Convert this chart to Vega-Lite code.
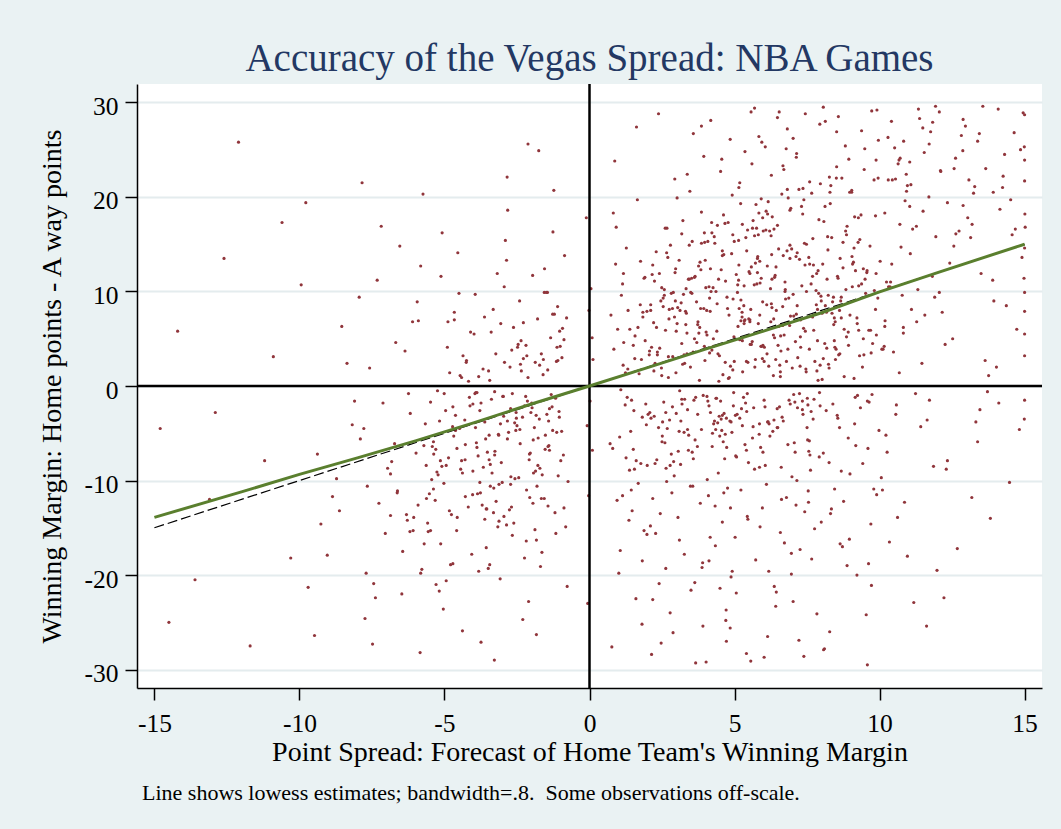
{
"$schema": "https://vega.github.io/schema/vega-lite/v6.json",
"background": "#EAF2F3",
"autosize": {"type": "pad"},
"padding": {"left": 38, "top": 39, "right": 19, "bottom": 29},
"config": {"view": {"stroke": null, "fill": "white"}, "font": "Liberation Serif"},
"title": {"text": "Line shows lowess estimates; bandwidth=.8.\u00a0 Some observations off-scale.", "orient": "bottom", "anchor": "start", "frame": "bounds", "baseline": "top", "fontSize": 22, "font": "Liberation Serif", "fontWeight": "normal", "color": "#000000", "offset": 16, "dx": 104},
"vconcat": [{
"width": 905,
"height": 604,
"title": {"text": "Accuracy of the Vegas Spread: NBA Games", "anchor": "middle", "frame": "group", "baseline": "alphabetic", "fontSize": 39, "font": "Liberation Serif", "fontWeight": "normal", "color": "#233863", "offset": -27},
"layer": [
{
"data": {"values": [
{"x":-14.8,"y":-4.5},{"x":-14.2,"y":5.8},{"x":-13.6,"y":-20.5},{"x":-13.1,"y":-12.0},{"x":-12.6,"y":13.5},{"x":-12.1,"y":25.8},{"x":-11.7,"y":-27.5},{"x":-11.2,"y":-7.9},{"x":-10.6,"y":17.3},{"x":-10.3,"y":-18.2},{"x":-14.5,"y":-25.0},{"x":-12.9,"y":-2.8},{"x":-10.9,"y":3.1},
{"x":-9.26,"y":-14.6},{"x":-8.36,"y":2.4},{"x":-9.70,"y":-21.3},{"x":-8.72,"y":-9.8},{"x":-9.94,"y":10.7},{"x":-8.18,"y":-4.1},{"x":-9.04,"y":-17.9},{"x":-9.48,"y":-26.4},{"x":-8.54,"y":6.3},{"x":-8.86,"y":-11.7},{"x":-9.78,"y":19.4},{"x":-8.10,"y":-1.6},{"x":-9.38,"y":-7.2},{"x":-8.62,"y":-13.2},
{"x":-7.26,"y":-12.4},{"x":-6.36,"y":3.7},{"x":-7.70,"y":-19.8},{"x":-6.72,"y":-6.1},{"x":-7.94,"y":9.4},{"x":-6.18,"y":-2.9},{"x":-7.04,"y":-15.6},{"x":-7.48,"y":-27.3},{"x":-6.54,"y":14.8},{"x":-6.86,"y":-9.3},{"x":-7.78,"y":-4.5},{"x":-6.10,"y":6.8},{"x":-7.38,"y":-22.4},{"x":-6.62,"y":-11.1},{"x":-7.84,"y":21.5},{"x":-7.12,"y":-1.8},{"x":-6.28,"y":-14.2},{"x":-7.58,"y":1.9},{"x":-6.82,"y":-8.0},{"x":-6.44,"y":-17.5},{"x":-7.74,"y":-24.6},{"x":-6.96,"y":-8.7},{"x":-7.32,"y":11.2},{"x":-6.06,"y":-13.9},{"x":-7.90,"y":-5.6},{"x":-6.68,"y":4.6},{"x":-7.44,"y":-20.9},{"x":-6.24,"y":-0.8},{"x":-7.18,"y":16.9},{"x":-7.66,"y":-10.6},
{"x":-5.26,"y":-9.1},{"x":-4.36,"y":3.2},{"x":-5.70,"y":-16.7},{"x":-4.72,"y":-4.3},{"x":-5.94,"y":8.9},{"x":-4.18,"y":-12.8},{"x":-5.04,"y":-23.6},{"x":-5.48,"y":-1.7},{"x":-4.54,"y":14.1},{"x":-4.86,"y":-7.6},{"x":-5.78,"y":-19.4},{"x":-4.10,"y":5.7},{"x":-5.38,"y":-10.9},{"x":-4.62,"y":-3.1},{"x":-5.84,"y":-28.2},{"x":-5.12,"y":11.6},{"x":-4.28,"y":-6.2},{"x":-5.58,"y":-14.5},{"x":-4.82,"y":1.4},{"x":-4.44,"y":-8.8},{"x":-5.74,"y":20.3},{"x":-4.96,"y":-2.6},{"x":-5.32,"y":-12.1},{"x":-4.06,"y":-17.8},{"x":-5.90,"y":6.9},{"x":-4.68,"y":-5.3},{"x":-5.44,"y":-9.9},{"x":-4.24,"y":2.7},{"x":-5.18,"y":-21.7},{"x":-5.66,"y":-4.0},{"x":-4.50,"y":9.8},{"x":-4.76,"y":-13.6},{"x":-5.98,"y":-7.1},{"x":-4.14,"y":-1.2},{"x":-5.08,"y":16.2},{"x":-5.52,"y":-11.4},{"x":-4.38,"y":-25.9},{"x":-4.90,"y":4.1},{"x":-5.30,"y":-6.7},{"x":-4.58,"y":-15.3},{"x":-5.62,"y":-11.9},{"x":-4.66,"y":7.8},{"x":-5.14,"y":-7.9},{"x":-5.82,"y":12.7},{"x":-4.30,"y":-3.6},{"x":-5.42,"y":-6.4},{"x":-4.94,"y":-20.6},{"x":-4.02,"y":-1.9},{"x":-5.22,"y":-9.4},{"x":-4.46,"y":1.1},
{"x":-3.26,"y":-6.9},{"x":-2.36,"y":4.8},{"x":-3.70,"y":-12.6},{"x":-2.72,"y":-2.4},{"x":-3.94,"y":9.7},{"x":-2.18,"y":-16.4},{"x":-3.04,"y":-8.1},{"x":-3.48,"y":1.6},{"x":-2.54,"y":-4.7},{"x":-2.86,"y":13.3},{"x":-3.78,"y":-10.2},{"x":-2.10,"y":-22.8},{"x":-3.38,"y":-1.4},{"x":-2.62,"y":6.2},{"x":-3.84,"y":-7.4},{"x":-3.12,"y":-14.3},{"x":-2.28,"y":2.9},{"x":-3.58,"y":-5.6},{"x":-2.82,"y":18.6},{"x":-2.44,"y":-9.7},{"x":-3.74,"y":-27.1},{"x":-2.96,"y":-3.2},{"x":-3.32,"y":8.1},{"x":-2.06,"y":-11.8},{"x":-3.90,"y":-6.0},{"x":-2.68,"y":3.8},{"x":-3.44,"y":-18.9},{"x":-2.24,"y":-2.1},{"x":-3.18,"y":11.9},{"x":-3.66,"y":-8.6},{"x":-2.50,"y":-4.2},{"x":-2.76,"y":-13.1},{"x":-3.98,"y":5.5},{"x":-2.14,"y":-1.6},{"x":-3.08,"y":-20.4},{"x":-3.52,"y":-7.0},{"x":-2.38,"y":2.3},{"x":-2.90,"y":15.4},{"x":-3.30,"y":-10.8},{"x":-2.58,"y":-3.9},{"x":-3.62,"y":7.3},{"x":-2.66,"y":-15.8},{"x":-3.14,"y":-5.1},{"x":-3.82,"y":1.0},{"x":-2.30,"y":-24.7},{"x":-3.42,"y":-8.3},{"x":-2.94,"y":10.5},{"x":-2.02,"y":-2.8},{"x":-3.22,"y":-12.2},{"x":-2.46,"y":4.4},{"x":-3.88,"y":-6.5},{"x":-2.84,"y":22.1},{"x":-3.36,"y":-9.2},{"x":-2.20,"y":-1.1},{"x":-3.56,"y":-17.1},{"x":-3.06,"y":6.6},{"x":-2.40,"y":-4.6},{"x":-3.76,"y":-11.3},{"x":-2.74,"y":2.0},{"x":-3.28,"y":-29.0},{"x":-2.12,"y":25.6},{"x":-3.46,"y":-7.8},
{"x":-1.52,"y":-5.2},{"x":-0.93,"y":6.1},{"x":-1.81,"y":-10.6},{"x":-1.17,"y":-1.3},{"x":-1.96,"y":11.7},{"x":-0.82,"y":-14.9},{"x":-1.38,"y":-6.8},{"x":-1.66,"y":3.4},{"x":-1.05,"y":-2.7},{"x":-1.26,"y":16.3},{"x":-1.86,"y":-9.0},{"x":-0.77,"y":-21.2},{"x":-1.60,"y":1.2},{"x":-1.10,"y":8.4},{"x":-1.90,"y":-4.4},{"x":-1.43,"y":-12.7},{"x":-0.88,"y":4.9},{"x":-1.73,"y":-3.5},{"x":-1.23,"y":20.7},{"x":-0.99,"y":-7.9},{"x":-1.83,"y":-26.3},{"x":-1.32,"y":-0.9},{"x":-1.56,"y":9.9},{"x":-0.74,"y":-10.1},{"x":-1.94,"y":-5.7},{"x":-1.14,"y":2.6},{"x":-1.64,"y":-17.6},{"x":-0.86,"y":13.8},{"x":-1.47,"y":-3.0},{"x":-1.78,"y":-8.4},{"x":-1.03,"y":5.8},{"x":-1.19,"y":-13.4},{"x":-1.99,"y":-1.8},{"x":-0.79,"y":7.2},{"x":-1.40,"y":-6.3},{"x":-1.69,"y":-19.1},{"x":-0.95,"y":3.0},{"x":-1.29,"y":-2.2},{"x":-1.55,"y":12.4},{"x":-1.08,"y":-9.5},{"x":-1.75,"y":24.9},{"x":-1.13,"y":-4.9},{"x":-1.44,"y":1.7},{"x":-1.88,"y":-15.2},{"x":-0.90,"y":-7.3},
{"x":0.05,"y":10.3},{"x":-0.08,"y":-4.2},{"x":0.12,"y":2.8},{"x":-0.03,"y":-11.6},{"x":0.09,"y":5.1},{"x":-0.11,"y":17.8},{"x":0.02,"y":-1.6},{"x":-0.06,"y":-23.0},{"x":0.1,"y":-6.8},{"x":-0.02,"y":8.0},
{"x":1.18,"y":4.6},{"x":1.77,"y":-8.2},{"x":0.90,"y":12.9},{"x":1.53,"y":-2.6},{"x":0.74,"y":7.5},{"x":1.88,"y":-15.3},{"x":1.32,"y":1.8},{"x":1.04,"y":-5.4},{"x":1.65,"y":19.7},{"x":1.44,"y":-11.0},{"x":0.84,"y":3.9},{"x":1.94,"y":-1.9},{"x":1.10,"y":9.6},{"x":1.60,"y":-22.5},{"x":0.80,"y":-6.6},{"x":1.27,"y":14.6},{"x":1.82,"y":-3.3},{"x":0.97,"y":6.0},{"x":1.47,"y":-13.2},{"x":1.71,"y":1.3},{"x":0.87,"y":23.8},{"x":1.38,"y":-8.9},{"x":1.14,"y":10.8},{"x":1.96,"y":-4.1},{"x":0.77,"y":-27.6},{"x":1.56,"y":2.9},{"x":1.06,"y":-17.4},{"x":1.84,"y":7.8},{"x":1.23,"y":-2.0},{"x":0.92,"y":16.8},{"x":1.68,"y":-10.3},{"x":1.51,"y":4.3},{"x":0.71,"y":-6.1},{"x":1.91,"y":11.5},{"x":1.30,"y":-1.2},{"x":1.01,"y":-19.8},{"x":1.75,"y":8.6},{"x":1.42,"y":-4.8},{"x":1.16,"y":2.2},{"x":1.62,"y":27.4},{"x":0.95,"y":-12.1},{"x":1.57,"y":5.3},{"x":1.26,"y":-7.6},{"x":0.82,"y":18.3},{"x":1.81,"y":-25.2},
{"x":2.74,"y":7.1},{"x":3.64,"y":-5.7},{"x":2.30,"y":14.2},{"x":3.28,"y":-1.4},{"x":2.06,"y":3.3},{"x":3.82,"y":-12.4},{"x":2.96,"y":9.0},{"x":2.52,"y":-3.8},{"x":3.46,"y":20.6},{"x":3.14,"y":-8.3},{"x":2.22,"y":1.6},{"x":3.90,"y":-18.7},{"x":2.62,"y":5.9},{"x":3.38,"y":-2.5},{"x":2.16,"y":11.8},{"x":2.88,"y":-26.1},{"x":3.72,"y":-6.4},{"x":2.42,"y":4.0},{"x":3.18,"y":16.1},{"x":3.56,"y":-10.6},{"x":2.26,"y":2.4},{"x":3.04,"y":8.3},{"x":2.68,"y":-4.5},{"x":3.94,"y":24.3},{"x":2.10,"y":-14.8},{"x":3.32,"y":6.5},{"x":2.56,"y":-1.7},{"x":3.76,"y":12.7},{"x":2.82,"y":-7.2},{"x":2.34,"y":3.6},{"x":3.50,"y":-21.6},{"x":3.24,"y":9.7},{"x":2.02,"y":-3.0},{"x":3.86,"y":18.4},{"x":2.92,"y":-9.5},{"x":2.48,"y":1.9},{"x":3.62,"y":5.0},{"x":3.10,"y":-16.3},{"x":2.70,"y":13.6},{"x":3.42,"y":-5.2},{"x":2.38,"y":28.8},{"x":3.34,"y":7.7},{"x":2.86,"y":-2.2},{"x":2.18,"y":-11.9},{"x":3.70,"y":4.6},{"x":2.58,"y":10.2},{"x":3.06,"y":-6.9},{"x":3.98,"y":2.7},{"x":2.78,"y":-24.0},{"x":3.54,"y":15.3},{"x":2.12,"y":-3.4},{"x":3.16,"y":8.8},{"x":2.64,"y":-8.7},{"x":3.80,"y":6.2},{"x":2.44,"y":-13.5},{"x":2.94,"y":21.9},{"x":3.60,"y":-1.5},{"x":2.24,"y":11.1},{"x":3.26,"y":-4.9},{"x":2.72,"y":3.1},{"x":3.88,"y":-19.2},{"x":2.54,"y":9.3},{"x":2.32,"y":-7.8},{"x":3.44,"y":14.9},{"x":2.98,"y":1.4},{"x":2.08,"y":-2.8},{"x":3.74,"y":6.8},{"x":2.66,"y":-10.1},{"x":3.22,"y":17.5},{"x":3.96,"y":4.2},{"x":2.50,"y":-5.9},{"x":3.58,"y":26.7},{"x":2.28,"y":-15.6},{"x":3.12,"y":8.0},{"x":2.76,"y":-3.6},{"x":3.84,"y":12.3},{"x":2.14,"y":-28.4},{"x":3.36,"y":5.6},{"x":2.90,"y":-8.0},{"x":3.66,"y":-29.3},{"x":2.40,"y":-20.9},{"x":3.02,"y":19.9},{"x":3.92,"y":-1.0},{"x":2.60,"y":-6.0},{"x":3.48,"y":2.0},
{"x":4.74,"y":9.4},{"x":5.64,"y":-4.3},{"x":4.30,"y":15.8},{"x":5.28,"y":1.5},{"x":4.06,"y":-9.9},{"x":5.82,"y":6.6},{"x":4.96,"y":-2.1},{"x":4.52,"y":22.7},{"x":5.46,"y":-14.1},{"x":5.14,"y":11.2},{"x":4.22,"y":3.8},{"x":5.90,"y":-6.5},{"x":4.62,"y":18.1},{"x":5.38,"y":-1.8},{"x":4.16,"y":7.9},{"x":4.88,"y":-20.2},{"x":5.72,"y":13.0},{"x":4.42,"y":-3.9},{"x":5.18,"y":4.9},{"x":5.56,"y":-29.1},{"x":4.26,"y":10.4},{"x":5.04,"y":-7.4},{"x":4.68,"y":2.5},{"x":5.94,"y":25.8},{"x":4.10,"y":-11.6},{"x":5.32,"y":8.5},{"x":4.56,"y":-4.7},{"x":5.76,"y":16.7},{"x":4.82,"y":0.9},{"x":4.34,"y":-16.9},{"x":5.50,"y":12.1},{"x":5.24,"y":-2.4},{"x":4.02,"y":5.7},{"x":5.86,"y":-8.6},{"x":4.92,"y":20.2},{"x":4.48,"y":3.2},{"x":5.62,"y":-5.5},{"x":5.10,"y":9.9},{"x":4.70,"y":-24.8},{"x":5.42,"y":14.3},{"x":4.38,"y":-1.3},{"x":5.34,"y":6.9},{"x":4.86,"y":-12.9},{"x":4.18,"y":28.1},{"x":5.70,"y":2.0},{"x":4.58,"y":-3.1},{"x":5.06,"y":11.8},{"x":5.98,"y":-7.0},{"x":4.78,"y":17.3},{"x":5.54,"y":4.4},{"x":4.12,"y":-18.5},{"x":5.16,"y":8.2},{"x":4.64,"y":-2.9},{"x":5.80,"y":13.7},{"x":4.44,"y":-9.2},{"x":4.94,"y":1.7},{"x":5.60,"y":23.5},{"x":4.24,"y":-5.0},{"x":5.26,"y":7.3},{"x":4.72,"y":-27.0},{"x":5.88,"y":10.9},{"x":4.54,"y":-3.5},{"x":4.32,"y":15.1},{"x":5.44,"y":-13.8},{"x":4.98,"y":5.2},{"x":4.08,"y":-1.6},{"x":5.74,"y":19.2},{"x":4.66,"y":-7.7},{"x":5.22,"y":9.1},{"x":5.96,"y":2.9},{"x":4.50,"y":-21.4},{"x":5.58,"y":12.6},{"x":4.28,"y":-4.0},{"x":5.12,"y":6.3},{"x":4.76,"y":-10.8},{"x":5.84,"y":26.4},{"x":4.14,"y":3.5},{"x":5.36,"y":-6.2},{"x":4.90,"y":14.0},{"x":5.66,"y":-2.3},{"x":4.40,"y":8.7},{"x":5.02,"y":-16.0},{"x":5.92,"y":11.4},{"x":4.60,"y":1.2},{"x":5.48,"y":-8.1},{"x":5.15,"y":21.0},{"x":4.35,"y":-4.6},{"x":5.53,"y":7.0},{"x":4.85,"y":-25.6},{"x":5.99,"y":16.4},{"x":4.05,"y":-1.1},{"x":5.27,"y":4.8},{"x":4.63,"y":-11.3},{"x":5.69,"y":29.4},{"x":4.19,"y":10.0},{"x":5.41,"y":-6.8},{"x":4.99,"y":2.6},{"x":5.87,"y":13.2},{"x":4.47,"y":-3.2},
{"x":6.74,"y":11.0},{"x":7.64,"y":-2.7},{"x":6.30,"y":17.9},{"x":7.28,"y":4.1},{"x":6.06,"y":-8.4},{"x":7.82,"y":8.6},{"x":6.96,"y":-17.7},{"x":6.52,"y":14.5},{"x":7.46,"y":1.8},{"x":7.14,"y":24.6},{"x":6.22,"y":-5.3},{"x":7.90,"y":9.8},{"x":6.62,"y":-12.0},{"x":7.38,"y":6.1},{"x":6.16,"y":19.5},{"x":6.88,"y":-1.5},{"x":7.72,"y":12.8},{"x":6.42,"y":-23.3},{"x":7.18,"y":3.0},{"x":7.56,"y":-6.9},{"x":6.26,"y":15.9},{"x":7.04,"y":7.4},{"x":6.68,"y":-3.7},{"x":7.94,"y":27.7},{"x":6.10,"y":-10.4},{"x":7.32,"y":10.6},{"x":6.56,"y":2.2},{"x":7.76,"y":-15.1},{"x":6.82,"y":20.8},{"x":6.34,"y":5.4},{"x":7.50,"y":-4.4},{"x":7.24,"y":13.4},{"x":6.02,"y":-28.7},{"x":7.86,"y":8.1},{"x":6.92,"y":-1.9},{"x":6.48,"y":17.0},{"x":7.62,"y":-8.9},{"x":7.10,"y":4.7},{"x":6.70,"y":22.9},{"x":7.42,"y":-13.3},{"x":6.38,"y":11.5},{"x":7.34,"y":-2.5},{"x":6.86,"y":6.7},{"x":6.18,"y":-19.6},{"x":7.70,"y":15.6},{"x":6.58,"y":1.0},{"x":7.06,"y":-6.0},{"x":7.98,"y":9.5},{"x":6.78,"y":25.1},{"x":7.54,"y":-11.1},{"x":6.12,"y":3.4},{"x":7.16,"y":14.1},{"x":6.64,"y":-3.3},{"x":7.80,"y":7.6},{"x":6.44,"y":-21.8},{"x":6.94,"y":18.8},{"x":7.60,"y":-7.3},{"x":6.24,"y":10.3},{"x":7.26,"y":2.1},{"x":6.72,"y":-16.6},{"x":7.88,"y":12.2},{"x":6.54,"y":29.0},{"x":6.32,"y":-4.8},{"x":7.44,"y":5.8},{"x":6.98,"y":-9.6},{"x":6.08,"y":16.5},{"x":7.74,"y":-1.4},{"x":6.66,"y":8.4},{"x":7.22,"y":-26.9},{"x":7.96,"y":21.4},{"x":6.50,"y":4.3},{"x":7.58,"y":-5.8},{"x":6.28,"y":13.9},{"x":7.12,"y":-12.6},{"x":6.76,"y":9.2},{"x":7.84,"y":1.6},{"x":6.14,"y":18.2},{"x":7.36,"y":-3.0},{"x":6.90,"y":6.4},{"x":7.66,"y":-18.3},{"x":6.40,"y":11.7},{"x":7.02,"y":26.2},{"x":7.92,"y":-7.5},{"x":6.60,"y":3.7},{"x":7.48,"y":15.0},{"x":7.15,"y":-10.0},{"x":6.35,"y":7.1},{"x":7.53,"y":-2.0},{"x":6.85,"y":19.9},{"x":7.99,"y":-14.4},
{"x":8.74,"y":12.5},{"x":9.64,"y":-1.7},{"x":8.30,"y":19.3},{"x":9.28,"y":5.9},{"x":8.06,"y":-7.1},{"x":9.82,"y":10.1},{"x":8.96,"y":-16.2},{"x":8.52,"y":23.2},{"x":9.46,"y":3.3},{"x":9.14,"y":-4.0},{"x":8.22,"y":14.4},{"x":9.90,"y":-11.5},{"x":8.62,"y":8.0},{"x":9.38,"y":27.0},{"x":8.16,"y":-2.6},{"x":8.88,"y":16.9},{"x":9.72,"y":-21.1},{"x":8.42,"y":6.5},{"x":9.18,"y":-6.3},{"x":9.56,"y":12.0},{"x":8.26,"y":1.9},{"x":9.04,"y":20.5},{"x":8.68,"y":-9.0},{"x":9.94,"y":9.3},{"x":8.10,"y":-27.8},{"x":9.32,"y":15.5},{"x":8.56,"y":-3.4},{"x":9.76,"y":4.5},{"x":8.82,"y":25.4},{"x":8.34,"y":-13.0},{"x":9.50,"y":11.3},{"x":9.24,"y":-1.0},{"x":8.02,"y":7.7},{"x":9.86,"y":18.0},{"x":8.92,"y":-5.5},{"x":8.48,"y":2.8},{"x":9.62,"y":-18.8},{"x":9.10,"y":13.1},{"x":8.70,"y":22.0},{"x":9.42,"y":-8.2},{"x":8.38,"y":8.9},{"x":9.34,"y":-2.3},{"x":8.86,"y":16.0},{"x":8.18,"y":4.0},{"x":9.70,"y":-14.6},{"x":8.58,"y":28.5},{"x":9.06,"y":10.5},{"x":9.98,"y":-4.7},{"x":8.78,"y":6.0},{"x":9.54,"y":-24.2},{"x":8.12,"y":19.0},{"x":9.16,"y":-1.2},{"x":8.64,"y":13.5},{"x":9.80,"y":-10.9},{"x":8.44,"y":7.2},{"x":8.94,"y":24.0},{"x":9.60,"y":-6.6},{"x":8.24,"y":2.3},{"x":9.26,"y":15.2},{"x":8.72,"y":-17.0},{"x":9.88,"y":11.9},{"x":8.54,"y":-3.1},{"x":8.32,"y":21.2},{"x":9.44,"y":5.0},{"x":8.98,"y":-9.3},{"x":8.08,"y":17.4},{"x":9.74,"y":-0.9},{"x":8.66,"y":9.0},{"x":9.22,"y":-20.0},{"x":9.96,"y":26.0},{"x":8.50,"y":3.9},{"x":9.58,"y":-29.5},{"x":8.28,"y":-26.0},{"x":9.12,"y":0.8},{"x":8.76,"y":-12.2},
{"x":10.74,"y":14.7},{"x":11.64,"y":-3.6},{"x":10.30,"y":21.8},{"x":11.28,"y":6.8},{"x":10.06,"y":-9.7},{"x":11.82,"y":11.6},{"x":10.96,"y":-18.0},{"x":10.52,"y":25.2},{"x":11.46,"y":2.4},{"x":11.14,"y":16.6},{"x":10.22,"y":-5.2},{"x":11.90,"y":9.4},{"x":10.62,"y":-13.9},{"x":11.38,"y":28.3},{"x":10.16,"y":4.2},{"x":10.88,"y":19.6},{"x":11.72,"y":-1.5},{"x":10.42,"y":12.9},{"x":11.18,"y":-22.9},{"x":11.56,"y":7.5},{"x":10.26,"y":-7.0},{"x":11.04,"y":23.7},{"x":10.68,"y":1.4},{"x":11.94,"y":15.8},{"x":10.10,"y":-11.0},{"x":11.32,"y":10.2},{"x":10.56,"y":-3.0},{"x":11.76,"y":26.9},{"x":10.82,"y":5.6},{"x":10.34,"y":-16.5},{"x":11.50,"y":18.5},{"x":11.24,"y":-0.8},{"x":10.02,"y":13.2},{"x":11.86,"y":-8.5},{"x":10.92,"y":22.4},{"x":10.48,"y":3.6},{"x":11.62,"y":-25.4},{"x":11.10,"y":8.1},{"x":10.70,"y":17.1},{"x":11.42,"y":-4.3},{"x":10.38,"y":11.0},{"x":11.34,"y":29.3},{"x":10.86,"y":-12.3},{"x":10.18,"y":6.3},{"x":11.70,"y":20.0},{"x":10.58,"y":-2.0},{"x":11.06,"y":14.0},{"x":11.98,"y":-19.5},{"x":10.78,"y":9.6},{"x":11.54,"y":24.7},
{"x":12.74,"y":16.4},{"x":13.64,"y":2.7},{"x":12.30,"y":-8.8},{"x":13.28,"y":21.1},{"x":12.06,"y":9.9},{"x":13.82,"y":-14.0},{"x":12.96,"y":27.5},{"x":12.52,"y":5.0},{"x":13.46,"y":-2.5},{"x":13.14,"y":15.7},{"x":12.22,"y":-22.4},{"x":13.90,"y":11.2},{"x":12.62,"y":24.1},{"x":13.38,"y":-5.9},{"x":12.16,"y":7.8},{"x":12.88,"y":19.1},{"x":13.72,"y":-0.6},{"x":12.42,"y":13.0},{"x":13.18,"y":-11.8},{"x":13.56,"y":29.6},{"x":12.26,"y":4.4},{"x":13.04,"y":17.8},{"x":12.68,"y":-17.2},{"x":13.94,"y":9.0},{"x":12.10,"y":22.8},{"x":13.32,"y":-3.8},{"x":12.56,"y":14.8},{"x":13.76,"y":1.1},{"x":12.82,"y":26.5},{"x":12.34,"y":-7.9},{"x":13.50,"y":11.9},{"x":13.24,"y":20.4},
{"x":14.37,"y":8.5},{"x":14.82,"y":-4.6},{"x":14.15,"y":18.7},{"x":14.64,"y":26.8},{"x":14.03,"y":2.0},{"x":14.91,"y":13.6},{"x":14.48,"y":-10.2},{"x":14.26,"y":22.2},{"x":14.73,"y":6.0},{"x":14.57,"y":16.0},{"x":14.11,"y":-1.8},{"x":14.95,"y":28.9},
{"x":15.0,"y":-1.5},{"x":15.0,"y":3.2},{"x":15.0,"y":7.9},{"x":14.98,"y":11.4},{"x":15.0,"y":14.6},{"x":15.01,"y":18.2},{"x":15.0,"y":21.7},{"x":14.99,"y":25.3},{"x":15.0,"y":28.7},{"x":15.0,"y":5.5},{"x":15.0,"y":9.9},{"x":15.02,"y":16.8},{"x":15.0,"y":23.9},{"x":14.99,"y":-3.5},
{"x":2.31,"y":6.2},{"x":3.53,"y":9.8},{"x":4.17,"y":12.4},{"x":5.61,"y":4.7},{"x":6.29,"y":8.3},{"x":7.83,"y":11.9},{"x":8.47,"y":6.8},{"x":9.12,"y":14.6},{"x":2.87,"y":3.1},{"x":3.09,"y":13.3},{"x":4.81,"y":7.5},{"x":5.33,"y":10.6},{"x":6.91,"y":14.9},{"x":7.27,"y":5.2},{"x":8.68,"y":9.4},{"x":9.57,"y":12.2},{"x":2.49,"y":10.4},{"x":3.77,"y":5.6},{"x":4.43,"y":3.4},{"x":5.97,"y":8.9},{"x":6.13,"y":12.7},{"x":7.58,"y":3.9},{"x":8.21,"y":15.8},{"x":9.86,"y":8.1},{"x":2.66,"y":14.1},{"x":3.31,"y":7.9},{"x":4.69,"y":11.1},{"x":5.14,"y":15.4},{"x":6.57,"y":6.4},{"x":7.02,"y":9.7},{"x":8.93,"y":4.3},{"x":9.38,"y":10.8},{"x":3.96,"y":16.2},{"x":4.27,"y":5.0},{"x":5.79,"y":13.5},{"x":6.42,"y":2.8},{"x":7.69,"y":7.3},{"x":8.04,"y":12.9},{"x":2.11,"y":8.6},{"x":3.64,"y":11.6},{"x":4.95,"y":9.2},{"x":5.46,"y":2.5},{"x":6.75,"y":10.2},{"x":7.41,"y":15.1},{"x":8.36,"y":7.7},{"x":9.69,"y":5.9},{"x":2.95,"y":12.0},{"x":4.58,"y":14.3},{"x":5.22,"y":6.9},{"x":6.03,"y":4.1},{"x":6.68,"y":13.8},{"x":7.16,"y":8.5},{"x":7.95,"y":2.2},{"x":8.57,"y":11.4},{"x":9.23,"y":6.6},{"x":3.18,"y":4.5},{"x":4.04,"y":8.0},{"x":5.53,"y":11.9},{"x":6.36,"y":16.6},{"x":7.48,"y":10.0},
{"x":2.23,"y":-3.2},{"x":3.41,"y":-6.8},{"x":4.12,"y":-2.1},{"x":5.07,"y":-7.5},{"x":6.19,"y":-4.0},{"x":7.34,"y":-1.6},{"x":2.78,"y":-8.4},{"x":3.86,"y":-4.6},{"x":4.61,"y":-5.9},{"x":5.42,"y":-2.7},{"x":6.84,"y":-6.2},{"x":7.71,"y":-3.5},{"x":8.26,"y":-8.1},{"x":2.51,"y":-5.3},{"x":3.19,"y":-1.9},{"x":4.88,"y":-3.8},{"x":5.69,"y":-8.8},{"x":6.47,"y":-2.4},{"x":7.09,"y":-7.0},{"x":8.62,"y":-4.4},{"x":3.58,"y":-7.7},{"x":4.36,"y":-1.3},{"x":5.85,"y":-5.1},{"x":6.61,"y":-8.6},{"x":2.99,"y":-2.9},{"x":4.73,"y":-6.5},{"x":5.27,"y":-4.2},{"x":7.52,"y":-5.7},{"x":6.02,"y":-1.5},{"x":3.73,"y":-3.0},
{"x":-5.63,"y":-8.4},{"x":-4.28,"y":-11.7},{"x":-3.46,"y":-5.2},{"x":-2.71,"y":-9.6},{"x":-1.84,"y":-3.1},{"x":-5.17,"y":-3.7},{"x":-4.83,"y":-13.2},{"x":-3.12,"y":-10.4},{"x":-2.39,"y":-6.1},{"x":-1.56,"y":-11.9},{"x":-5.91,"y":-12.6},{"x":-4.57,"y":-6.6},{"x":-3.78,"y":-2.6},{"x":-2.95,"y":-13.8},{"x":-2.08,"y":-7.8},{"x":-1.27,"y":-4.7},{"x":-5.38,"y":-5.9},{"x":-4.02,"y":-9.0},{"x":-3.61,"y":-14.1},{"x":-2.52,"y":-3.4},{"x":-1.71,"y":-8.7},{"x":-4.71,"y":-2.2},{"x":-3.27,"y":-7.3},{"x":-2.17,"y":-11.0},{"x":-1.43,"y":-6.4},{"x":-5.02,"y":-10.3},{"x":-3.93,"y":-4.4},{"x":-2.83,"y":-5.6},{"x":-1.95,"y":-12.4},{"x":-4.41,"y":-7.9},
{"x":5.36,"y":24.8},{"x":6.82,"y":27.2},{"x":7.59,"y":21.6},{"x":8.13,"y":28.0},{"x":9.47,"y":22.9},{"x":10.29,"y":26.3},{"x":11.08,"y":21.3},{"x":11.83,"y":27.9},{"x":12.57,"y":23.0},{"x":13.38,"y":25.9},{"x":14.24,"y":21.0},{"x":9.91,"y":29.2},{"x":6.27,"y":22.3},{"x":12.06,"y":29.0},{"x":10.71,"y":24.1},
{"x":3.41,"y":11.3},{"x":7.88,"y":0.6},{"x":1.92,"y":4.8},{"x":5.27,"y":17.1},{"x":9.63,"y":5.9},{"x":2.75,"y":8.1},{"x":6.14,"y":-3.8},{"x":10.31,"y":10.5},{"x":4.58,"y":13.8},{"x":8.06,"y":2.9},{"x":1.33,"y":8.0},{"x":5.91,"y":4.2},{"x":7.22,"y":20.8},{"x":3.09,"y":-4.8},{"x":9.17,"y":12.2},{"x":6.66,"y":6.4},{"x":2.18,"y":12.8},{"x":4.97,"y":-0.7},{"x":8.74,"y":15.2},{"x":10.82,"y":6.2},{"x":5.49,"y":7.1},{"x":3.86,"y":15.1},{"x":7.51,"y":-1.3},{"x":1.67,"y":6.2},{"x":6.38,"y":5.1},{"x":9.95,"y":22.0},{"x":4.23,"y":-6.4},{"x":2.54,"y":8.4},{"x":8.41,"y":9.4},{"x":5.72,"y":2.8},
{"x":6.93,"y":7.4},{"x":2.41,"y":11.9},{"x":8.59,"y":3.3},{"x":4.12,"y":10.5},{"x":1.08,"y":-0.4},{"x":7.36,"y":20.9},{"x":5.03,"y":-3.1},{"x":9.44,"y":12.4},{"x":3.57,"y":3.6},{"x":6.21,"y":16.4},{"x":10.08,"y":3.9},{"x":2.89,"y":9.9},{"x":4.79,"y":0.8},{"x":8.23,"y":9.6},{"x":5.62,"y":16.7},{"x":1.51,"y":-6.7},{"x":7.69,"y":11.6},{"x":3.28,"y":2.4},{"x":9.81,"y":21.8},{"x":6.47,"y":-4.4},{"x":4.36,"y":10.0},{"x":2.07,"y":3.7},{"x":8.92,"y":5.7},{"x":5.15,"y":12.8},{"x":7.04,"y":-0.9},{"x":3.73,"y":6.5},{"x":10.55,"y":21.9},{"x":6.02,"y":2.6},{"x":1.84,"y":7.3},{"x":4.91,"y":-4.9},
{"x":8.17,"y":7.8},{"x":5.39,"y":15.7},{"x":2.63,"y":-2.8},{"x":7.12,"y":13.7},{"x":4.46,"y":0.5},{"x":9.28,"y":10.6},{"x":1.76,"y":13.2},{"x":6.55,"y":-2.2},{"x":3.94,"y":8.2},{"x":8.68,"y":7.2},{"x":5.84,"y":18.3},{"x":2.26,"y":-8.2},{"x":7.43,"y":12.8},{"x":4.05,"y":5.4},{"x":10.19,"y":6.9},{"x":6.81,"y":14.3},{"x":3.15,"y":-3.7},{"x":5.56,"y":8.1},{"x":8.97,"y":20.5},{"x":1.45,"y":-1.5},{"x":6.29,"y":11.3},{"x":4.68,"y":-5.1},{"x":9.52,"y":9.8},{"x":2.97,"y":12.4},{"x":7.77,"y":2.6},{"x":3.49,"y":9.9},{"x":5.98,"y":4.3},{"x":10.67,"y":23.9},{"x":4.31,"y":-3.7},{"x":6.74,"y":10.0},
{"x":4.84,"y":-3.7},{"x":9.07,"y":12.9},{"x":3.21,"y":2.3},{"x":6.09,"y":18.5},{"x":1.99,"y":-8.4},{"x":7.59,"y":12.9},{"x":5.33,"y":6.6},{"x":2.72,"y":0.9},{"x":8.35,"y":15.7},{"x":4.17,"y":-2.8},{"x":6.87,"y":9.3},{"x":10.44,"y":21.8},{"x":3.66,"y":-1.2},{"x":5.77,"y":10.8},{"x":7.95,"y":-2.1},{"x":2.34,"y":3.3},{"x":9.36,"y":18.1},{"x":4.52,"y":-1.6},{"x":6.43,"y":12.6},{"x":1.24,"y":1.4},{"x":8.51,"y":22.0},{"x":5.09,"y":-3.0},{"x":3.02,"y":6.6},{"x":7.28,"y":7.0},{"x":4.99,"y":15.3},{"x":9.71,"y":3.5},{"x":2.58,"y":9.6},{"x":6.18,"y":2.1},{"x":8.84,"y":10.2},{"x":5.45,"y":16.5},
{"x":7.31,"y":19.0},{"x":3.79,"y":0.6},{"x":5.68,"y":10.7},{"x":1.61,"y":-7.9},{"x":8.13,"y":8.5},{"x":4.63,"y":13.9},{"x":6.99,"y":1.9},{"x":2.46,"y":9.0},{"x":9.22,"y":7.2},{"x":5.21,"y":19.3},{"x":3.38,"y":-4.6},{"x":7.64,"y":10.8},{"x":4.27,"y":4.2},{"x":10.93,"y":20.6},{"x":6.34,"y":1.1},{"x":2.82,"y":9.8},{"x":8.46,"y":4.1},{"x":5.87,"y":7.5},{"x":3.97,"y":15.2},{"x":7.08,"y":-1.7},{"x":1.39,"y":6.0},{"x":6.59,"y":5.3},{"x":4.41,"y":17.0},{"x":9.58,"y":-1.6},{"x":2.11,"y":8.0},{"x":5.53,"y":6.8},{"x":7.86,"y":4.8},{"x":3.62,"y":11.5},{"x":8.02,"y":0.7},{"x":6.11,"y":8.6},
{"x":5.94,"y":4.2},{"x":2.67,"y":16.7},{"x":8.78,"y":1.0},{"x":4.76,"y":8.2},{"x":6.52,"y":6.3},{"x":1.17,"y":11.9},{"x":7.47,"y":1.5},{"x":3.33,"y":10.3},{"x":9.89,"y":5.4},{"x":5.36,"y":7.0},{"x":4.08,"y":15.3},{"x":7.17,"y":-2.3},{"x":2.93,"y":7.3},{"x":6.71,"y":5.4},{"x":8.29,"y":20.5},{"x":3.54,"y":-7.0},{"x":5.11,"y":10.7},{"x":10.24,"y":11.0},{"x":4.86,"y":2.1},{"x":6.97,"y":14.5},{"x":2.38,"y":-4.4},{"x":7.81,"y":10.1},{"x":5.64,"y":17.5},{"x":3.11,"y":-0.5},{"x":9.05,"y":13.7},{"x":4.49,"y":-5.3},{"x":6.25,"y":6.8},{"x":1.88,"y":11.4},{"x":8.63,"y":3.4},{"x":5.79,"y":12.0},
{"x":3.18,"y":-1.4},{"x":6.44,"y":8.0},{"x":4.94,"y":16.0},{"x":8.39,"y":-1.9},{"x":2.21,"y":6.7},{"x":5.58,"y":4.4},{"x":7.39,"y":19.7},{"x":1.55,"y":-8.8},{"x":9.67,"y":14.8},{"x":4.39,"y":5.8},{"x":6.84,"y":3.9},{"x":3.44,"y":11.3},{"x":7.93,"y":-0.7},{"x":5.26,"y":7.8},{"x":2.79,"y":14.9},{"x":8.86,"y":5.2},{"x":4.14,"y":9.3},{"x":6.16,"y":-3.8},{"x":10.36,"y":10.5},{"x":3.81,"y":13.1},{"x":5.44,"y":-0.8},{"x":7.56,"y":13.6},{"x":2.49,"y":1.1},{"x":6.63,"y":20.3},{"x":4.72,"y":-3.4},{"x":8.19,"y":11.3},{"x":3.26,"y":3.3},{"x":5.82,"y":16.0},{"x":9.31,"y":3.2},{"x":6.91,"y":13.5},
{"x":4.54,"y":12.3},{"x":7.24,"y":-0.8},{"x":2.99,"y":5.8},{"x":5.97,"y":17.8},{"x":8.44,"y":4.8},{"x":3.69,"y":8.9},{"x":6.36,"y":-3.6},{"x":1.79,"y":2.8},{"x":9.14,"y":17.9},{"x":5.31,"y":-1.2},{"x":4.01,"y":10.4},{"x":7.73,"y":5.9},{"x":2.61,"y":16.7},{"x":6.05,"y":-2.2},{"x":8.55,"y":11.6},{"x":3.36,"y":3.4},{"x":5.69,"y":15.9},{"x":10.12,"y":3.9},{"x":4.45,"y":11.3},{"x":6.79,"y":2.6},{"x":2.14,"y":4.1},{"x":7.35,"y":18.2},{"x":5.18,"y":-3.4},{"x":3.83,"y":8.2},{"x":8.98,"y":7.5},{"x":4.67,"y":17.2},{"x":6.49,"y":-4.4},{"x":1.98,"y":7.9},{"x":7.99,"y":9.0},{"x":5.41,"y":2.6},{"x":3.52,"y":11.4},{"x":9.41,"y":2.0},{"x":6.27,"y":8.7},{"x":4.22,"y":16.2},{"x":8.11,"y":4.5},{"x":2.86,"y":8.2},{"x":5.86,"y":-4.0},{"x":7.13,"y":7.6},{"x":3.99,"y":13.3},{"x":6.58,"y":1.5},
{"x":-3.42,"y":-10.6},{"x":-1.87,"y":2.5},{"x":-5.13,"y":-16.7},{"x":-2.66,"y":-0.8},{"x":-4.29,"y":-7.8},{"x":-1.21,"y":7.6},{"x":-6.08,"y":-15.3},{"x":-3.07,"y":-4.0},{"x":-2.19,"y":4.3},{"x":-4.71,"y":-18.8},{"x":-1.53,"y":-6.7},{"x":-3.88,"y":-0.7},{"x":-5.56,"y":-15.4},{"x":-2.41,"y":9.0},{"x":-1.04,"y":-3.3},{"x":-4.03,"y":-11.5},{"x":-2.93,"y":2.5},{"x":-6.47,"y":-22.0},{"x":-3.61,"y":-3.8},{"x":-1.72,"y":2.2},
{"x":-2.28,"y":6.7},{"x":-4.56,"y":-13.9},{"x":-1.38,"y":-2.4},{"x":-3.23,"y":3.4},{"x":-5.82,"y":-19.8},{"x":-2.04,"y":-7.1},{"x":-3.95,"y":-0.8},{"x":-1.66,"y":-11.9},{"x":-4.88,"y":6.8},{"x":-2.79,"y":-4.9},{"x":-6.31,"y":-13.6},{"x":-1.12,"y":4.1},{"x":-3.49,"y":-19.3},{"x":-2.53,"y":-2.8},{"x":-5.01,"y":-0.8},{"x":-1.93,"y":-9.2},{"x":-4.17,"y":0.5},{"x":-2.86,"y":-14.7},{"x":-3.74,"y":-1.8},{"x":-0.96,"y":-4.8},
{"x":-4.38,"y":-9.2},{"x":-2.12,"y":0.9},{"x":-3.31,"y":-13.4},{"x":-1.45,"y":9.9},{"x":-5.37,"y":-7.2},{"x":-2.72,"y":-10.4},{"x":-1.01,"y":4.2},{"x":-3.82,"y":-19.6},{"x":-4.62,"y":-4.7},{"x":-2.35,"y":1.6},{"x":-6.86,"y":-13.7},{"x":-1.59,"y":2.8},{"x":-3.16,"y":-14.9},{"x":-2.97,"y":-1.1},{"x":-4.94,"y":-8.4},{"x":-1.27,"y":7.6},{"x":-3.56,"y":-13.0},{"x":-5.71,"y":-6.3},{"x":-2.48,"y":4.1},{"x":-1.83,"y":-16.3},
{"x":-1.63,"y":-9.4},{"x":-3.67,"y":1.8},{"x":-2.24,"y":-18.2},{"x":-4.48,"y":-4.5},{"x":-1.09,"y":2.7},{"x":-3.01,"y":-10.2},{"x":-5.24,"y":-0.5},{"x":-2.61,"y":-14.5},{"x":-4.12,"y":-2.1},{"x":-1.77,"y":-5.5},{"x":-3.39,"y":5.7},{"x":-6.19,"y":-15.4},{"x":-2.83,"y":-3.7},{"x":-1.34,"y":5.1},{"x":-4.79,"y":-18.9},{"x":-2.07,"y":-7.2},{"x":-3.92,"y":-0.7},{"x":-5.48,"y":-15.3},{"x":-1.49,"y":9.9},{"x":-3.13,"y":-5.2},
{"x":-2.99,"y":-1.1},{"x":-5.09,"y":-8.5},{"x":-1.79,"y":7.1},{"x":-3.54,"y":-13.0},{"x":-2.31,"y":-3.3},{"x":-4.25,"y":2.5},{"x":-1.16,"y":-15.6},{"x":-6.63,"y":-11.3},{"x":-3.27,"y":-0.6},{"x":-2.69,"y":-12.8},{"x":-4.66,"y":7.0},{"x":-1.41,"y":-3.7},{"x":-3.86,"y":-11.4},{"x":-2.16,"y":3.2},{"x":-5.29,"y":-21.0},{"x":-1.98,"y":-2.3},{"x":-3.44,"y":0.6},{"x":-2.57,"y":-9.8},{"x":-4.41,"y":0.9},{"x":-0.88,"y":-12.9},
{"x":3.37,"y":22.4},{"x":4.85,"y":26.1},{"x":5.92,"y":19.8},{"x":6.48,"y":28.4},{"x":7.13,"y":24.2},{"x":7.91,"y":17.6},{"x":8.52,"y":26.9},{"x":9.04,"y":20.7},{"x":9.73,"y":29.1},{"x":10.18,"y":18.3},{"x":10.64,"y":23.5},{"x":11.27,"y":16.9},{"x":11.71,"y":25.6},{"x":12.34,"y":19.4},{"x":12.88,"y":28.2},{"x":13.19,"y":17.1},{"x":13.66,"y":23.0},{"x":14.09,"y":29.3},{"x":14.52,"y":19.7},{"x":14.86,"y":25.0},{"x":4.21,"y":17.3},{"x":5.18,"y":21.5},{"x":6.06,"y":25.3},{"x":6.91,"y":18.6},{"x":7.44,"y":28.8},{"x":8.27,"y":22.1},{"x":8.83,"y":16.4},{"x":9.49,"y":25.1},{"x":10.41,"y":28.0},{"x":10.96,"y":21.2},{"x":11.49,"y":27.3},{"x":12.11,"y":22.7},{"x":12.63,"y":16.1},{"x":13.44,"y":26.7},{"x":13.92,"y":20.5},{"x":14.31,"y":24.5},{"x":3.86,"y":27.5},{"x":5.57,"y":29.0},{"x":7.66,"y":20.4},{"x":9.27,"y":17.8},{"x":11.04,"y":19.0},{"x":12.87,"y":24.9},{"x":14.68,"y":16.6},{"x":6.67,"y":23.3},{"x":8.06,"y":29.5},{"x":10.83,"y":25.9},{"x":4.56,"y":24.0},{"x":13.08,"y":21.8},{"x":9.88,"y":23.9},{"x":11.93,"y":29.6},
{"x":1.36,"y":-14.2},{"x":2.18,"y":-22.6},{"x":2.84,"y":-11.3},{"x":3.27,"y":-17.8},{"x":3.91,"y":-25.4},{"x":4.33,"y":-12.7},{"x":4.92,"y":-19.6},{"x":5.41,"y":-28.3},{"x":5.88,"y":-14.9},{"x":6.37,"y":-21.2},{"x":6.79,"y":-11.8},{"x":7.26,"y":-17.3},{"x":7.84,"y":-24.1},{"x":8.31,"y":-13.5},{"x":8.88,"y":-19.0},{"x":1.82,"y":-18.5},{"x":2.47,"y":-27.2},{"x":3.05,"y":-13.9},{"x":3.63,"y":-20.8},{"x":4.16,"y":-16.0},{"x":4.71,"y":-23.7},{"x":5.22,"y":-11.0},{"x":5.73,"y":-18.4},{"x":6.14,"y":-26.5},{"x":6.58,"y":-15.5},{"x":7.02,"y":-22.8},{"x":7.55,"y":-12.3},{"x":8.07,"y":-27.9},{"x":8.64,"y":-16.7},{"x":1.14,"y":-11.6},{"x":1.98,"y":-15.7},{"x":2.63,"y":-19.3},{"x":3.48,"y":-10.6},{"x":4.02,"y":-29.2},{"x":4.58,"y":-14.4},{"x":5.06,"y":-21.9},{"x":5.96,"y":-12.9},{"x":6.96,"y":-19.9},{"x":7.39,"y":-28.6},{"x":8.45,"y":-10.9}
]},
"mark": {"type": "circle", "size": 10, "color": "#90353B", "opacity": 1},
"encoding": {
"x": {"field": "x", "type": "quantitative",
 "scale": {"domain": [-15.6, 15.6], "nice": false, "zero": false},
 "axis": {"title": "Point Spread: Forecast of Home Team's Winning Margin", "values": [-15, -10, -5, 0, 5, 10, 15], "labelExpr": "'' + datum.value", "grid": false, "domainColor": "#000000", "domainWidth": 1.5, "tickColor": "#000000", "tickWidth": 1.5, "tickSize": 12, "labelFont": "Liberation Serif", "labelFontSize": 25.5, "labelColor": "#000000", "labelPadding": 11, "titleFont": "Liberation Serif", "titleFontSize": 28, "titleFontWeight": "normal", "titleColor": "#000000", "titlePadding": 2, "labelFlush": false}},
"y": {"field": "y", "type": "quantitative",
 "scale": {"domain": [-31.95, 31.95], "nice": false, "zero": false},
 "axis": {"title": "Winning Margin: Home points - A way points", "values": [-30, -20, -10, 0, 10, 20, 30], "labelExpr": "'' + datum.value", "grid": true, "gridColor": "#E4ECEE", "gridWidth": 2, "domainColor": "#000000", "domainWidth": 1.5, "tickColor": "#000000", "tickWidth": 1.5, "tickSize": 12, "labelFont": "Liberation Serif", "labelFontSize": 25.5, "labelColor": "#000000", "labelPadding": 7, "labelOffset": 4, "titleFont": "Liberation Serif", "titleFontSize": 28, "titleFontWeight": "normal", "titleColor": "#000000", "titlePadding": 18, "labelFlush": false}}
}
},
{"data": {"values": [{"x": 0}]}, "mark": {"type": "rule", "color": "#000000", "strokeWidth": 2.5}, "encoding": {"x": {"field": "x", "type": "quantitative"}}},
{"data": {"values": [{"y": 0}]}, "mark": {"type": "rule", "color": "#000000", "strokeWidth": 2.5}, "encoding": {"y": {"field": "y", "type": "quantitative"}}},
{
"data": {"values": [{"x": -15, "y": -15}, {"x": 15, "y": 15}]},
"mark": {"type": "line", "color": "#000000", "strokeWidth": 1.2, "strokeDash": [10, 4]},
"encoding": {"x": {"field": "x", "type": "quantitative"}, "y": {"field": "y", "type": "quantitative"}}
},
{
"data": {"values": [{"x": -15, "y": -13.9}, {"x": -12, "y": -11.2}, {"x": -10, "y": -9.35}, {"x": -8, "y": -7.6}, {"x": -6, "y": -5.8}, {"x": -4, "y": -3.9}, {"x": -2, "y": -1.9}, {"x": 0, "y": 0}, {"x": 2, "y": 1.95}, {"x": 4, "y": 3.9}, {"x": 6, "y": 5.8}, {"x": 8, "y": 7.75}, {"x": 10, "y": 9.95}, {"x": 12, "y": 12.0}, {"x": 15, "y": 15.0}]},
"mark": {"type": "line", "color": "#5A7F2E", "strokeWidth": 3},
"encoding": {"x": {"field": "x", "type": "quantitative"}, "y": {"field": "y", "type": "quantitative"}}
}
]
}]
}
